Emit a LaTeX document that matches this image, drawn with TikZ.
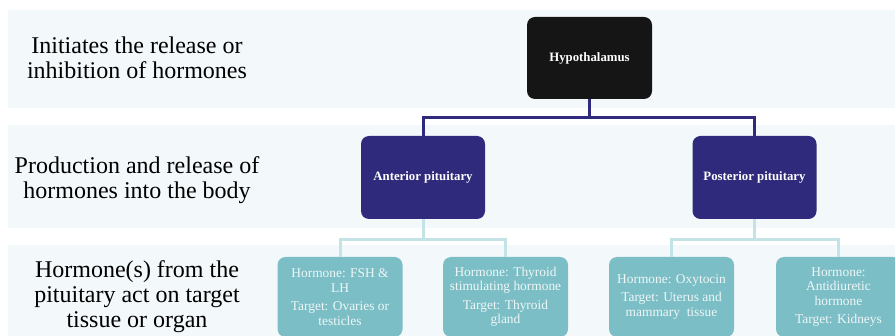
\documentclass[tikz,border=0pt]{standalone}
\usepackage{fontspec}
\setmainfont{Liberation Serif}
\definecolor{bandc}{HTML}{F3F8FB}
\definecolor{hypc}{HTML}{151515}
\definecolor{pitc}{HTML}{2F2A7B}
\definecolor{tealc}{HTML}{7CBEC6}
\definecolor{lightc}{HTML}{C3E3E6}
\definecolor{boxtxt}{HTML}{EEF7F8}
\begin{document}
\begin{tikzpicture}[x=1pt,y=-1pt,
  band/.style={fill=bandc,draw=none},
  lefttext/.style={align=center,font=\fontsize{24}{25}\selectfont,text=black,inner sep=0pt},
  topbox/.style={rounded corners=8pt,minimum width=125pt,minimum height=82pt,inner sep=2pt,align=center,text=white,font=\bfseries\fontsize{12.8}{14}\selectfont},
  leafbox/.style={fill=tealc,rounded corners=8pt,minimum width=125pt,minimum height=80pt,inner sep=2pt,align=center,text=boxtxt,font=\fontsize{13.4}{14.5}\selectfont},
  darkline/.style={draw=pitc,line width=3pt},
  lightline/.style={draw=lightc,line width=3pt}]
\useasboundingbox (0,0) rectangle (895,336);
\clip (0,0) rectangle (895,336);
\fill[white] (0,0) rectangle (895,336);
% bands
\path[band] (8,10) rectangle (895,108);
\path[band] (8,125) rectangle (895,228);
\path[band] (8,245) rectangle (895,340);
% left texts
\node[lefttext] (t1) at (137,58) {Initiates the release or\\inhibition of hormones};
\node[lefttext] (t2) at (137,180) {Production and release of\\hormones into the body};
\node[lefttext] (t3) at (137,297) {Hormone(s) from the\\pituitary act on target\\tissue or organ};
% boxes
\node[topbox,fill=hypc,minimum height=82pt] (hyp) at (589.5,58) {Hypothalamus};
\node[topbox,fill=pitc,minimum width=124pt,minimum height=83pt] (ant) at (423,177.5) {Anterior pituitary};
\node[topbox,fill=pitc,minimum width=124pt,minimum height=83pt] (post) at (754.5,177.5) {Posterior pituitary};
\node[leafbox] (l1) at (340,297) {Hormone: FSH \&\\LH\\[4pt]Target: Ovaries or\\testicles};
\node[leafbox] (l2) at (505.5,297) {Hormone: Thyroid\\stimulating hormone\\[4pt]Target: Thyroid\\gland};
\node[leafbox] (l3) at (671.5,297) {Hormone: Oxytocin\\[4pt]Target: Uterus and\\mammary\ \ tissue};
\node[leafbox] (l4) at (838.5,297) {Hormone:\\Antidiuretic\\hormone\\[4pt]Target: Kidneys};
% connectors
\begin{scope}[on background layer/.style={}]
\end{scope}
\path[darkline] (hyp.south) -- ++(0,18) coordinate (hj);
\path[darkline] (hj) -| (ant.north);
\path[darkline] (hj) -| (post.north);
\path[lightline] (ant.south) -- ++(0,20) coordinate (aj);
\path[lightline] (aj) -| (l1.north);
\path[lightline] (aj) -| (l2.north);
\path[lightline] (post.south) -- ++(0,20) coordinate (pj);
\path[lightline] (pj) -| (l3.north);
\path[lightline] (pj) -| (l4.north);
\end{tikzpicture}
\end{document}
